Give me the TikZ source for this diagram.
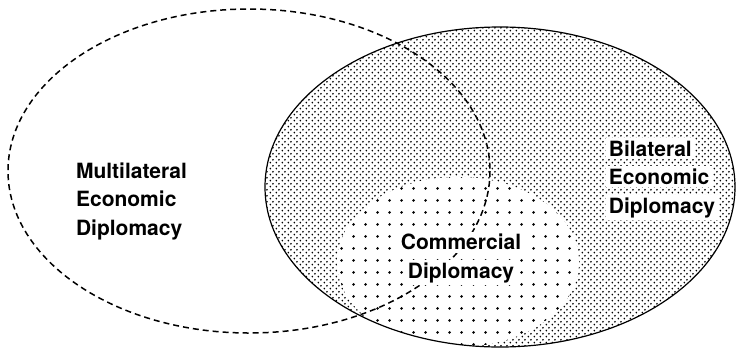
\documentclass[tikz,border=0pt]{standalone}
\usepackage{fontspec}
\setmainfont{TeX Gyre Heros}
\usetikzlibrary{patterns.meta}
\pgfdeclarepattern{
  name=finedots,
  type=uncolored,
  bottom left={\pgfpoint{0pt}{0pt}},
  top right={\pgfpoint{5.6bp}{5.8bp}},
  tile size={\pgfpoint{5.6bp}{5.8bp}},
  code={
    \pgfpathcircle{\pgfpoint{1.4bp}{1.45bp}}{0.95bp}
    \pgfpathcircle{\pgfpoint{4.2bp}{4.35bp}}{0.95bp}
    \pgfusepath{fill}
  }
}
\pgfdeclarepattern{
  name=bigdots,
  type=uncolored,
  bottom left={\pgfpoint{0pt}{0pt}},
  top right={\pgfpoint{12bp}{12bp}},
  tile size={\pgfpoint{12bp}{12bp}},
  code={
    \pgfpathcircle{\pgfpoint{6bp}{6bp}}{1.6bp}
    \pgfusepath{fill}
  }
}
\newcommand\knockout[1]{\colorbox{white}{#1}}
\tikzset{
  outerdash/.style={line width=1.5bp, dash pattern=on 6bp off 4bp},
  solidrim/.style={line width=1.2bp},
  label/.style={inner sep=0pt, font=\fontsize{21bp}{28.5bp}\selectfont\bfseries},
}
\begin{document}
\begin{tikzpicture}[x=1bp,y=-1bp]
  \setlength{\fboxsep}{2.5bp}
  \useasboundingbox[fill=white] (0,0) rectangle (737,349);
  % bilateral ellipse fill
  \path[pattern=finedots] (500,187) ellipse [x radius=235, y radius=160];
  % commercial region, clipped to bilateral ellipse
  \begin{scope}
    \clip (500,187) ellipse [x radius=235, y radius=160];
    \fill[white] (458,262) ellipse [x radius=121, y radius=85];
    \path[pattern=bigdots] (458,262) ellipse [x radius=121, y radius=85];
  \end{scope}
  % multilateral dashed ellipse
  \draw[outerdash] (249,171) ellipse [x radius=241, y radius=162];
  % bilateral outline
  \draw[solidrim] (500,187) ellipse [x radius=235, y radius=160];
  % labels
  \node[label, align=left] (multi) at (131.5,201)
    {Multilateral\\Economic\\Diplomacy};
  \node[label, align=left] (bi) at (662,179)
    {\knockout{Bilateral}\\\knockout{Economic}\\\knockout{Diplomacy}};
  \node[label, align=center] (comm) at (461,258.5)
    {\knockout{Commercial}\\\knockout{Diplomacy}};
\end{tikzpicture}
\end{document}
